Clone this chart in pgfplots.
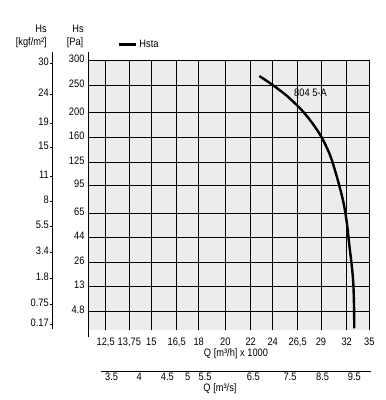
\documentclass[border=0pt]{standalone}
\usepackage{fontspec}
\setmainfont{Liberation Sans}[FakeStretch=0.86]
\usepackage{pgfplots}
\pgfplotsset{compat=1.18}
\definecolor{bggray}{RGB}{235,236,235}
\newcommand{\fs}{\fontsize{10.8}{12}\selectfont}
\begin{document}
\begin{tikzpicture}
\useasboundingbox (-88pt,-70.5pt) rectangle (298pt,329.5pt);
\begin{axis}[
  at={(0pt,0pt)}, anchor=south west,
  scale only axis, width=281.3pt, height=269.5pt,
  xmin=88, xmax=369.3, ymin=70.5, ymax=340,
  axis line style={draw=none},
  axis background/.style={fill=bggray},
  xtick={105.7,129.3,151.3,176.7,198.7,225.3,250.7,272.7,297.7,321,346.7,369.3},
  xticklabels={{12,5},{13,75},15,{16,5},18,20,22,24,{26,5},29,32,35},
  ytick={89,113.3,137.5,163,186.7,214.5,238,262.5,287.2,314.8,340},
  yticklabels={4.8,13,26,44,65,95,125,160,200,250,300},
  major tick length=0pt,
  grid=major, major grid style={black, line width=0.9pt},
  tick label style={font=\fs},
  xticklabel style={yshift=-5pt},
  yticklabel style={yshift=1.5pt},
  clip=false,
  legend style={at={(axis cs:118,355.7)}, anchor=west, draw=none, fill=none,
    inner sep=0pt, outer sep=0pt, font=\fs},
  legend cell align=left,
]
\addplot[black, line width=2.4pt, smooth] coordinates {
  (259.3,324) (272.7,315) (286.7,304.3) (300,291.7) (310,280)
  (320.7,264.3) (330,245) (337.3,221.7) (343.3,198.3) (346.7,178.3)
  (349.3,155) (351.7,135) (353.3,116.7) (354,95) (354.3,71.7)
};
\addlegendentry{Hsta}
\node[font=\fs] at (axis cs:310.5,307.5) {804 5-A};
\end{axis}
% annotations in pixel coordinates of the reference
\begin{scope}[x=1pt, y=-1pt, shift={(-88pt,329.5pt)}]
  \draw[black, line width=0.8pt] (88,52) -- (88,337);
  \draw[black, line width=0.8pt] (52.5,52) -- (52.5,329.3);
  \node[font=\fs, anchor=east, inner sep=0pt] at (47,29) {Hs};
  \node[font=\fs, anchor=east, inner sep=0pt] at (47,42.3) {[kgf/m²]};
  \node[font=\fs, anchor=east, inner sep=0pt] at (84,29) {Hs};
  \node[font=\fs, anchor=east, inner sep=0pt] at (83.5,42.3) {[Pa]};
  \foreach \v/\y in {30/62,24/92.7,19/121.7,15/146,11/174.3,8/200,5.5/225,3.4/250.7,1.8/276.7,0.75/302.7,0.17/322.7}{
    \node[font=\fs, anchor=east, inner sep=0pt] at (49,\y) {\v};
    \draw[black, line width=0.6pt] (49.8,\y+1.5) -- (52.5,\y+1.5);
  }
  \node[font=\fs] at (236,353.3) {Q [m³/h] x 1000};
  \draw[black, line width=0.8pt] (100.7,371.7) -- (370.7,371.7);
  \foreach \v/\x in {3.5/111.7,4/139.3,4.5/167.3,5/187.7,5.5/205,6.5/253.3,7.5/290,8.5/322.7,9.5/354.3}{
    \node[font=\fs, inner sep=0pt] at (\x,377) {\v};
  }
  \node[font=\fs] at (220,389) {Q [m³/s]};
\end{scope}
\end{tikzpicture}
\end{document}
